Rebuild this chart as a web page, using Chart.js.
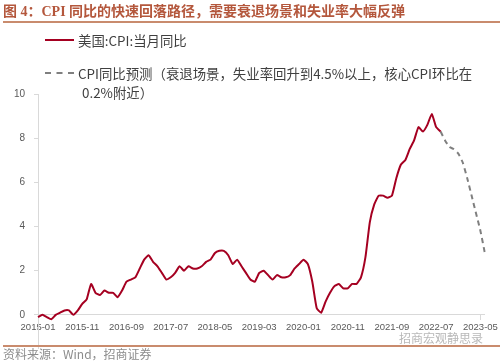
<!DOCTYPE html>
<html>
<head>
<meta charset="utf-8">
<script src="https://cdn.jsdelivr.net/npm/chart.js@4.4.0/dist/chart.umd.min.js"></script>
<style>
body { margin: 0; width: 500px; height: 363px; position: relative; background: #fff; overflow: hidden; font-family: "Noto Sans CJK SC", sans-serif; }
#myChart { position: absolute; left: 0; top: 0; }
.txt { position: absolute; white-space: nowrap; }
#title { left: 3px; top: 3px; font-size: 14px; font-weight: bold; color: #b4573c; font-family: "Liberation Serif", "Noto Sans CJK SC", serif; line-height: 18px; }
.rule { position: absolute; left: 3px; right: 0; height: 1.5px; background: #c98b6d; }
.leg { font-size: 13.4px; color: #404040; line-height: 18px; }
.swatch { position: absolute; width: 29px; height: 0; }
#source { left: 3px; top: 346px; font-size: 12px; color: #8c8c8c; line-height: 16px; }
#mark { left: 399px; top: 330px; font-size: 12px; color: #b8b8b8; line-height: 16px; }
</style>
</head>
<body>
<canvas id="myChart" width="500" height="363"></canvas>
<div class="txt" id="title">图 4：CPI 同比的快速回落路径，需要衰退场景和失业率大幅反弹</div>
<div class="rule" style="top:21px"></div>

<div class="swatch" style="left:45px; top:39px; border-top:2px solid #a50021"></div>
<div class="txt leg" style="left:78px; top:31px">美国:CPI:当月同比</div>
<div class="swatch" style="left:45px; top:72px; border-top:2px dashed #7f7f7f"></div>
<div class="txt leg" style="left:78px; top:64px">CPI同比预测（衰退场景，失业率回升到4.5%以上，核心CPI环比在</div>
<div class="txt leg" style="left:82px; top:83px">0.2%附近）</div>

<div class="txt" id="mark">招商宏观静思录</div>
<div class="rule" style="top:345px"></div>
<div class="txt" id="source">资料来源：Wind，招商证券</div>

<script>
// Months 2015-01 .. 2023-06
const months = [];
for (let y = 2015; y <= 2023; y++) {
    for (let m = 1; m <= 12; m++) {
        if (y === 2023 && m > 6) break;
        months.push(y + '-' + (m < 10 ? '0' + m : m));
    }
}

// US CPI YoY, 2015-01 .. 2022-08
const cpiYoY = [
    -0.1, 0.0, -0.1, -0.2, 0.0, 0.1, 0.2, 0.2, 0.0, 0.2, 0.5, 0.7,
    1.4, 1.0, 0.9, 1.1, 1.0, 1.0, 0.8, 1.1, 1.5, 1.6, 1.7, 2.1,
    2.5, 2.7, 2.4, 2.2, 1.9, 1.6, 1.7, 1.9, 2.2, 2.0, 2.2, 2.1,
    2.1, 2.2, 2.4, 2.5, 2.8, 2.9, 2.9, 2.7, 2.3, 2.5, 2.2, 1.9,
    1.6, 1.5, 1.9, 2.0, 1.8, 1.6, 1.8, 1.7, 1.7, 1.8, 2.1, 2.3,
    2.5, 2.3, 1.5, 0.3, 0.1, 0.6, 1.0, 1.3, 1.4, 1.2, 1.2, 1.4,
    1.4, 1.7, 2.6, 4.2, 5.0, 5.4, 5.4, 5.3, 5.4, 6.2, 6.8, 7.0,
    7.5, 7.9, 8.5, 8.3, 8.6, 9.1, 8.5, 8.3
];

// Forecast, 2022-08 .. 2023-06
const forecastStart = 91;
const forecastValues = [8.3, 7.9, 7.6, 7.5, 7.3, 6.9, 6.2, 5.4, 4.6, 3.8, 2.8];
const forecast = Array(forecastStart).fill(null).concat(forecastValues);

const yTicks = [0, 2, 4, 6, 8, 10];

const ctx = document.getElementById('myChart').getContext('2d');
const myChart = new Chart(ctx, {
    type: 'line',
    data: {
        labels: months,
        datasets: [{
            label: '美国:CPI:当月同比',
            data: cpiYoY,
            borderColor: '#a50021',
            borderWidth: 2,
            pointRadius: 0,
            tension: 0.15
        }, {
            label: 'CPI同比预测',
            data: forecast,
            borderColor: '#7f7f7f',
            borderWidth: 2,
            borderDash: [5, 4],
            pointRadius: 0,
            tension: 0.15
        }]
    },
    options: {
        responsive: false,
        animation: false,
        layout: { padding: { top: 94, right: 13, left: 0, bottom: 0 } },
        plugins: { legend: { display: false }, tooltip: { enabled: false } },
        scales: {
            x: {
                position: { y: 0 },
                border: { color: '#d9d9d9' },
                grid: {
                    drawOnChartArea: false,
                    tickLength: 5,
                    color: (c) => (c.index % 10 === 0 ? '#d9d9d9' : 'rgba(0,0,0,0)')
                },
                ticks: {
                    autoSkip: false,
                    maxRotation: 0,
                    padding: 2,
                    color: '#595959',
                    font: { family: 'Liberation Sans', size: 9.5 },
                    callback: function (v, i) { return i % 10 === 0 ? months[i] : null; }
                },
                afterFit: (s) => { s.height = 19.5; }
            },
            y: {
                min: -1.5,
                max: 10,
                border: { color: '#d9d9d9' },
                grid: {
                    drawOnChartArea: false,
                    tickLength: 4,
                    color: (c) => (c.tick && yTicks.includes(c.tick.value) ? '#d9d9d9' : 'rgba(0,0,0,0)')
                },
                ticks: {
                    stepSize: 2,
                    padding: 9,
                    color: '#595959',
                    font: { family: 'Liberation Sans', size: 10 },
                    callback: (v) => (yTicks.includes(v) ? v : '')
                },
                afterFit: (s) => { s.width = 38; }
            }
        }
    }
});
</script>
</body>
</html>
